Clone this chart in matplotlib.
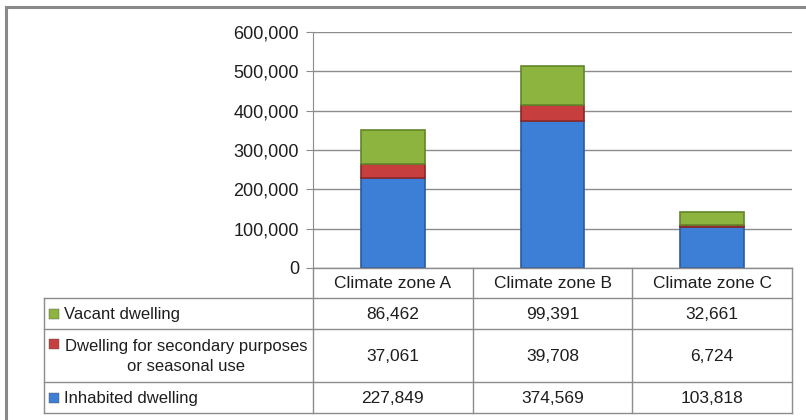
import matplotlib.pyplot as plt
from matplotlib.ticker import FuncFormatter

zones = ["Climate zone A", "Climate zone B", "Climate zone C"]
series_names = ["Vacant dwelling",
                "Dwelling for secondary purposes\nor seasonal use",
                "Inhabited dwelling"]
vacant = [86462, 99391, 32661]
secondary = [37061, 39708, 6724]
inhabited = [227849, 374569, 103818]
y_ticks = [0, 100000, 200000, 300000, 400000, 500000, 600000]

BLUE = "#3d7fd6"
RED = "#c63f3e"
GREEN = "#8db43e"
GRID = "#8c8c8c"
TEXT = "#1e1e1e"

plt.rcParams['font.family'] = ['Liberation Sans Narrow', 'Liberation Sans', 'DejaVu Sans']

W, H = 806, 420
fig = plt.figure(figsize=(W / 100, H / 100), dpi=100)

# pixel layout of the Excel chart
plot_l, plot_r, plot_t, plot_b = 313, 792, 32, 268
tab_l, tab_b = 44, 413
row_lines = [298, 329, 382]

ax = fig.add_axes([plot_l / W, 1 - plot_b / H, (plot_r - plot_l) / W, (plot_b - plot_t) / H])
x = range(len(zones))
bw = 0.4
bottoms2 = inhabited
bottoms3 = [a + b for a, b in zip(inhabited, secondary)]
ax.bar(x, inhabited, bw, color=BLUE, edgecolor="#2a5b9e", linewidth=1.2, zorder=3)
ax.bar(x, secondary, bw, bottom=bottoms2, color=RED, edgecolor="#8a2828", linewidth=1.2, zorder=3)
ax.bar(x, vacant, bw, bottom=bottoms3, color=GREEN, edgecolor="#62862a", linewidth=1.2, zorder=3)

ax.set_xlim(-0.5, 2.5)
ax.set_ylim(0, 600000)
ax.set_yticks(y_ticks)
ax.yaxis.set_major_formatter(FuncFormatter(lambda v, p: f"{int(v):,}"))
ax.tick_params(axis="y", length=5, color=GRID, labelsize=13, labelcolor=TEXT, pad=5)
ax.set_xticks([])
ax.grid(axis="y", color=GRID, linewidth=1, zorder=0)
for s in ["top", "right", "bottom"]:
    ax.spines[s].set_visible(False)
ax.spines["left"].set_color(GRID)

# data table below the plot, sharing the category scale
cw = (plot_r - plot_l) / len(zones)
extra = (plot_l - tab_l) / cw
tab = fig.add_axes([tab_l / W, 1 - tab_b / H, (plot_r - tab_l) / W, (tab_b - plot_b) / H])
tab.set_xlim(-0.5 - extra, 2.5)
tab.set_ylim(tab_b - plot_b, 0)
tab.axis("off")

lc = dict(color=GRID, linewidth=1, clip_on=False)
ys = [r - plot_b for r in row_lines] + [tab_b - plot_b]
tab.plot([-0.5, 2.5], [0, 0], **lc)
for yy in ys:
    tab.plot([-0.5 - extra, 2.5], [yy, yy], **lc)
tab.plot([-0.5 - extra] * 2, [ys[0], ys[-1]], **lc)
for i in range(len(zones) + 1):
    tab.plot([i - 0.5] * 2, [0, ys[-1]], **lc)

for i, z in enumerate(zones):
    tab.text(i, ys[0] / 2 + 1, z, ha="center", va="center", fontsize=12.5, color=TEXT)

rows = [vacant, secondary, inhabited]
colors = [GREEN, RED, BLUE]
tops = ys[:-1]
bots = ys[1:]
x0 = -0.5 - extra
label_x = x0 + (64 - tab_l) / cw
mark_x = x0 + (54 - tab_l) / cw
for name, vals, c, t, b in zip(series_names, rows, colors, tops, bots):
    mid = (t + b) / 2
    for i, v in enumerate(vals):
        tab.text(i, mid + 1, f"{v:,}", ha="center", va="center", fontsize=12.5, color=TEXT)
    if "\n" in name:
        tab.text(x0 + (186 - tab_l) / cw, mid + 1, name, ha="center", va="center",
                 multialignment="center", fontsize=12, color=TEXT, linespacing=1.45)
        my = t + 15
    else:
        tab.text(label_x, mid + 1, name, ha="left", va="center", fontsize=12, color=TEXT)
        my = mid
    tab.scatter([mark_x], [my], marker="s", s=42, color=c,
                edgecolors="#555555", linewidths=0.3, clip_on=False)

# outer chart border (top and left visible)
fig.add_artist(plt.Line2D([6 / W, 1], [1 - 7 / H] * 2, color="#8a8a8a", linewidth=2.2))
fig.add_artist(plt.Line2D([6 / W] * 2, [1 - 7 / H, 0], color="#8a8a8a", linewidth=2.2))

fig.savefig("out.png", dpi=100)
